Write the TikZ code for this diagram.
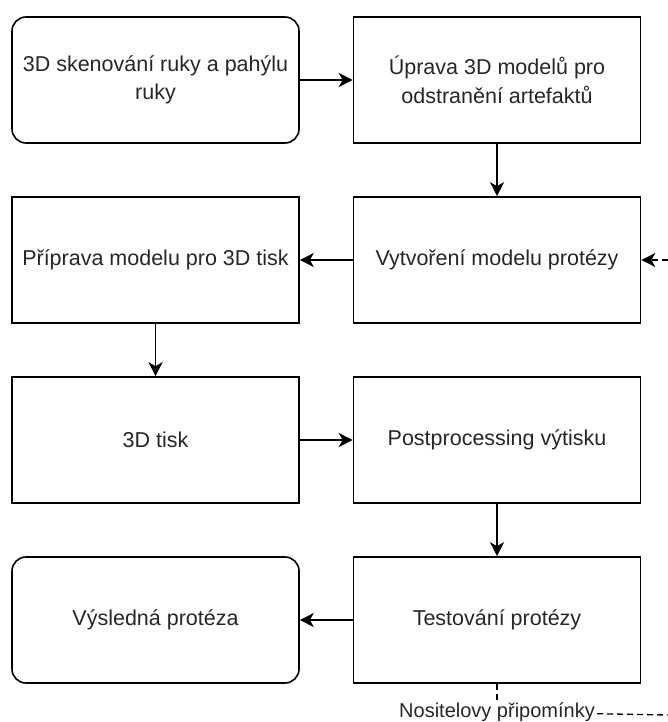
\documentclass[tikz,border=0pt]{standalone}
\usepackage{fontspec}
\setmainfont{Liberation Sans}
\usetikzlibrary{arrows.meta,positioning}

\begin{document}
\begin{tikzpicture}[x=1pt,y=-1pt,
  box/.style={draw,line width=1.6pt,minimum width=287pt,minimum height=126pt,
    align=center,inner sep=0pt,font=\fontsize{21.5}{28.5}\selectfont,text=black!85},
  roundbox/.style={box,rounded corners=14pt},
  flow/.style={line width=1.6pt,-{Stealth[length=14pt,width=14pt,inset=4pt]}},
  note/.style={line width=1.3pt,dash pattern=on 6pt off 4pt}]
  \useasboundingbox (0,0) rectangle (668,722);
  % first column
  \node[roundbox] (scan) at (155.5,80) {3D skenování ruky a pahýlu\\ruky};
  \node[box] (prep) at (155.5,260) {Příprava modelu pro 3D tisk};
  \node[box] (print) at (155.5,440) {3D tisk};
  \node[roundbox] (result) at (155.5,620) {Výsledná protéza};
  % second column
  \node[box] (edit) at (497,80) {Úprava 3D modelů pro\\odstranění artefaktů};
  \node[box] (model) at (497,260) {Vytvoření modelu protézy};
  \node[box] (post) at (497,440) {Postprocessing výtisku};
  \node[box] (test) at (497,620) {Testování protézy};

  \draw[flow] (scan) -- (edit);
  \draw[flow] (edit) -- (model);
  \draw[flow] (model) -- (prep);
  \draw[flow] (prep) -- (print);
  \draw[flow] (print) -- (post);
  \draw[flow] (post) -- (test);
  \draw[flow] (test) -- (result);

  % feedback
  \node[font=\fontsize{20}{24}\selectfont,text=black!85,inner sep=0pt,anchor=base] (remark) at (497,717) {Nositelovy připomínky};
  \coordinate (stub) at (497,700);
  \coordinate (edgeB) at (668,715);
  \coordinate (edgeR) at (668,260);
  \draw[note] (test) -- (stub);
  \draw[note] (remark.east) ++(2,2) -- (edgeB);
  \draw[note,-{Stealth[length=14pt,width=14pt,inset=4pt]}] (edgeR) -- (model);
\end{tikzpicture}
\end{document}
